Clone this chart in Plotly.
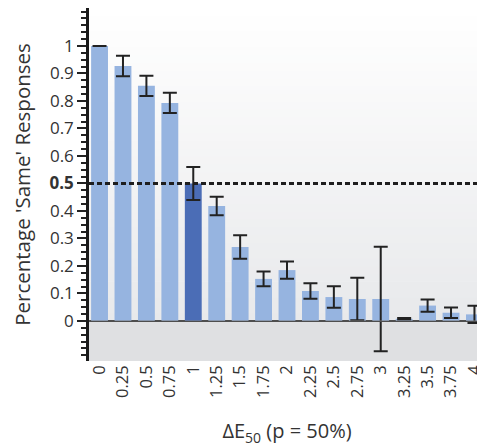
import plotly.graph_objects as go

categories = ["0", "0.25", "0.5", "0.75", "1", "1.25", "1.5", "1.75", "2",
              "2.25", "2.5", "2.75", "3", "3.25", "3.5", "3.75", "4"]
values = [1.0, 0.927, 0.855, 0.793, 0.5, 0.418, 0.269, 0.153, 0.185,
          0.109, 0.087, 0.08, 0.08, 0.008, 0.056, 0.03, 0.024]
errors = [0.0, 0.037, 0.037, 0.037, 0.06, 0.034, 0.043, 0.027, 0.031,
          0.028, 0.039, 0.077, 0.19, 0.003, 0.022, 0.019, 0.031]
highlight_index = 4
y_tickvals = [0, 0.1, 0.2, 0.3, 0.4, 0.5, 0.6, 0.7, 0.8, 0.9, 1]
y_ticktext = ["0", "0.1", "0.2", "0.3", "0.4", "<b>0.5</b>", "0.6", "0.7", "0.8", "0.9", "1"]
threshold = 0.5

light = "#96b4e0"
dark = "#4b6db6"
colors = [dark if i == highlight_index else light for i in range(len(categories))]

ymin, ymax = -0.1455, 1.138
font_family = "'Open Sans', Lato, sans-serif"

fig = go.Figure()
fig.add_trace(go.Bar(
    x=list(range(len(categories))), y=values,
    marker=dict(color=colors, line=dict(width=0)),
    error_y=dict(type="data", array=errors, visible=True,
                 color="#222222", thickness=2, width=7),
    width=0.72,
))

shapes = []
zero_frac = (0 - ymin) / (ymax - ymin)
n = 40
top_c = (255, 255, 255)
bot_c = (232, 233, 235)
for i in range(n):
    f0 = zero_frac + (1 - zero_frac) * i / n
    f1 = zero_frac + (1 - zero_frac) * (i + 1) / n
    t = i / (n - 1)
    c = tuple(int(round(bot_c[k] + (top_c[k] - bot_c[k]) * t)) for k in range(3))
    shapes.append(dict(type="rect", xref="paper", yref="paper", x0=0, x1=1,
                       y0=f0, y1=f1 + 0.002, fillcolor="rgb(%d,%d,%d)" % c,
                       line=dict(width=0), layer="below"))
shapes.append(dict(type="rect", xref="paper", yref="paper", x0=0, x1=1,
                   y0=0, y1=zero_frac, fillcolor="#dfe0e2",
                   line=dict(width=0), layer="below"))
shapes.append(dict(type="line", xref="paper", yref="y", x0=0, x1=1, y0=0, y1=0,
                   line=dict(color="#222222", width=2), layer="below"))
shapes.append(dict(type="line", xref="paper", yref="y", x0=0, x1=1, y0=0, y1=0,
                   line=dict(color="#7a7a7a", width=1.2), layer="above"))
shapes.append(dict(type="line", xref="paper", yref="y", x0=0, x1=1,
                   y0=threshold, y1=threshold,
                   line=dict(color="#1e1e1e", width=3, dash="5px,3px"), layer="above"))

fig.update_layout(
    width=485, height=447,
    margin=dict(l=81, r=8, t=0, b=94),
    paper_bgcolor="white",
    plot_bgcolor="rgba(0,0,0,0)",
    showlegend=False,
    shapes=shapes,
    font=dict(family=font_family, color="#333333"),
    xaxis=dict(
        range=[-0.45, 16.45], automargin=False,
        tickmode="array", tickvals=list(range(len(categories))), ticktext=categories,
        tickangle=-90, showgrid=False, zeroline=False, showline=False, ticks="",
        tickfont=dict(size=16.5, color="#333333"),
        title=dict(text="ΔE<sub>50</sub> (p = 50%)", font=dict(size=20, color="#333333"),
                   standoff=27),
    ),
    yaxis=dict(
        range=[ymin, ymax], automargin=False,
        tickmode="array", tickvals=y_tickvals, ticktext=y_ticktext,
        showgrid=False, zeroline=False,
        showline=True, linecolor="#1a1a1a", linewidth=2.5,
        ticks="outside", ticklen=9, tickwidth=2, tickcolor="#222222",
        minor=dict(dtick=0.025, tick0=0, ticks="outside", ticklen=5,
                   tickwidth=1.5, tickcolor="#222222", showgrid=False),
        tickfont=dict(size=17, color="#333333"),
        title=dict(text="Percentage 'Same' Responses", font=dict(size=20.5, color="#333333"),
                   standoff=18),
    ),
)

fig.write_html("out.html")
